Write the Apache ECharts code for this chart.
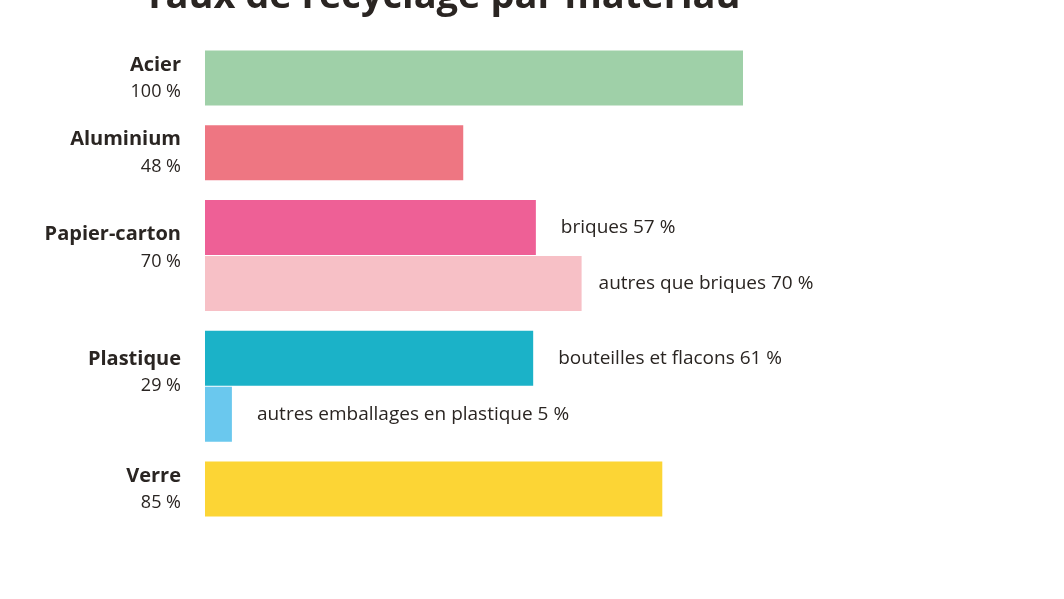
<!DOCTYPE html>
<html><head><meta charset="utf-8">
<script src="https://cdn.jsdelivr.net/npm/echarts@6/dist/echarts.min.js"></script>
<style>html,body{margin:0;background:#fff}#c{width:1064px;height:599px}</style>
</head><body><div id="c"></div>
<script>
const groups = ['Acier','Aluminium','Papier-carton','Plastique','Verre'];
const groupRates = ['100 %','48 %','70 %','29 %','85 %'];
const groupRow = [0, 1.333, 2.667, 5, 7.333];
const barRow = [0, 1.333, 2.667, 3.667, 5, 6, 7.333];
const barValues = [100, 48, 61.5, 70, 61, 5, 85];
const barLabels = ['', '', 'briques 57 %', 'autres que briques 70 %', 'bouteilles et flacons 61 %', 'autres emballages en plastique 5 %', ''];
const barColors = ['#9fd0a8','#ee7682','#ee6096','#f7c0c6','#1bb2c8','#6ac8ee','#fcd535'];
const FONT = '"Open Sans", Lato, sans-serif';

const chart = echarts.init(document.getElementById('c'));
chart.setOption({
  animation:false,
  title:{text:'Taux de recyclage par matériau',left:437,textAlign:'center',top:-27,
    textStyle:{fontFamily:FONT,fontSize:38,fontWeight:'bold',color:'#2a2522'}},
  grid:{left:205,width:538,top:50,height:467},
  xAxis:{type:'value',min:0,max:100,show:false},
  yAxis:{type:'value',min:-0.5,max:7.833,inverse:true,show:false},
  series:[{
    type:'custom',
    data:barValues.map((v,i)=>[v,barRow[i],i]),
    renderItem:(p,api)=>{
      const i=api.value(2);
      const a=api.coord([0,api.value(1)]), b=api.coord([api.value(0),api.value(1)]);
      const h=api.size([0,1])[1]-1;
      const ch=[{type:'rect',shape:{x:a[0],y:a[1]-h/2,width:b[0]-a[0],height:h},style:{fill:barColors[i]}}];
      if(barLabels[i]) ch.push({type:'text',x:b[0]+(i===3?17:25),y:b[1],style:{text:barLabels[i],fill:'#2a2522',font:'500 19px '+FONT,verticalAlign:'middle'}});
      return {type:'group',children:ch};
    }
  },{
    type:'custom',
    data:groups.map((g,i)=>[0,groupRow[i],i]),
    renderItem:(p,api)=>{
      const i=api.value(2);
      const c=api.coord([0,api.value(1)]);
      const off = i===2?20:(i===3?14:0);
      return {type:'group',children:[
        {type:'text',x:c[0]-24,y:c[1]-13+off,style:{text:groups[i],fill:'#2a2522',font:'bold 20px '+FONT,align:'right',verticalAlign:'middle'}},
        {type:'text',x:c[0]-24,y:c[1]+14+off,style:{text:groupRates[i],fill:'#2a2522',font:'500 18px '+FONT,align:'right',verticalAlign:'middle'}}
      ]};
    }
  }]
});
</script></body></html>
